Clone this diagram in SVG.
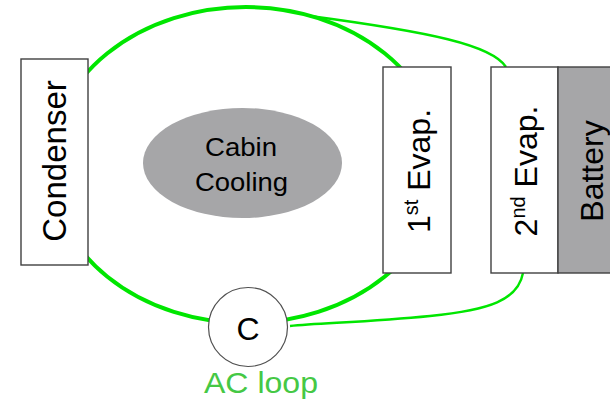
<svg xmlns="http://www.w3.org/2000/svg" width="610" height="404" viewBox="0 0 610 404">
<style>
.box{fill:#fff;stroke:#404040;stroke-width:1.4}
.gray{fill:#a6a6a8;stroke:#404040;stroke-width:1.4}
.t{font-family:"Liberation Sans",Arial,sans-serif;fill:#000}
.thick{fill:none;stroke:#00e600;stroke-width:4}
.thin{fill:none;stroke:#00e600;stroke-width:2.4}
</style>
<rect width="610" height="404" fill="#fff"/>
<g id="connectors">
<ellipse class="thick" cx="246" cy="165" rx="196" ry="158"/>
<path class="thin" d="M506,67 C492,45 430,32 310,16"/>
<path class="thin" d="M523,273 C518,300 490,310 430,316 S320,323 290,326"/>
</g>
<g id="condenser">
<rect class="box" x="21" y="59" width="67" height="206"/>
<text class="t" font-size="33" text-anchor="middle" transform="translate(66,161) rotate(-90)">Condenser</text>
</g>
<g id="cabin">
<ellipse cx="242.5" cy="163" rx="99.5" ry="55" fill="#a6a6a8"/>
<text class="t" font-size="25" x="241" y="156" text-anchor="middle" textLength="72" lengthAdjust="spacingAndGlyphs">Cabin</text>
<text class="t" font-size="25" x="241.5" y="191" text-anchor="middle" textLength="93" lengthAdjust="spacingAndGlyphs">Cooling</text>
</g>
<g id="evap1">
<rect class="box" x="383" y="67" width="68" height="206"/>
<text class="t" font-size="32" text-anchor="middle" transform="translate(430,171) rotate(-90)">1<tspan font-size="20" dy="-12">st</tspan><tspan dy="12"> Evap.</tspan></text>
</g>
<g id="evap2">
<rect class="box" x="491" y="67" width="67" height="206"/>
<text class="t" font-size="32" text-anchor="middle" transform="translate(537,171) rotate(-90)">2<tspan font-size="20" dy="-12">nd</tspan><tspan dy="12"> Evap.</tspan></text>
</g>
<g id="battery">
<rect class="gray" x="558" y="67" width="60" height="206"/>
<text class="t" font-size="32" text-anchor="middle" transform="translate(603,171) rotate(-90)">Battery</text>
</g>
<g id="compressor">
<circle cx="248" cy="327" r="39.5" fill="#fff" stroke="#505050" stroke-width="1.2"/>
<text class="t" font-size="32" x="248" y="340" text-anchor="middle">C</text>
</g>
<text x="204" y="393" font-family="Liberation Sans,Arial,sans-serif" font-size="30" fill="#45c845" textLength="114" lengthAdjust="spacingAndGlyphs">AC loop</text>
</svg>
